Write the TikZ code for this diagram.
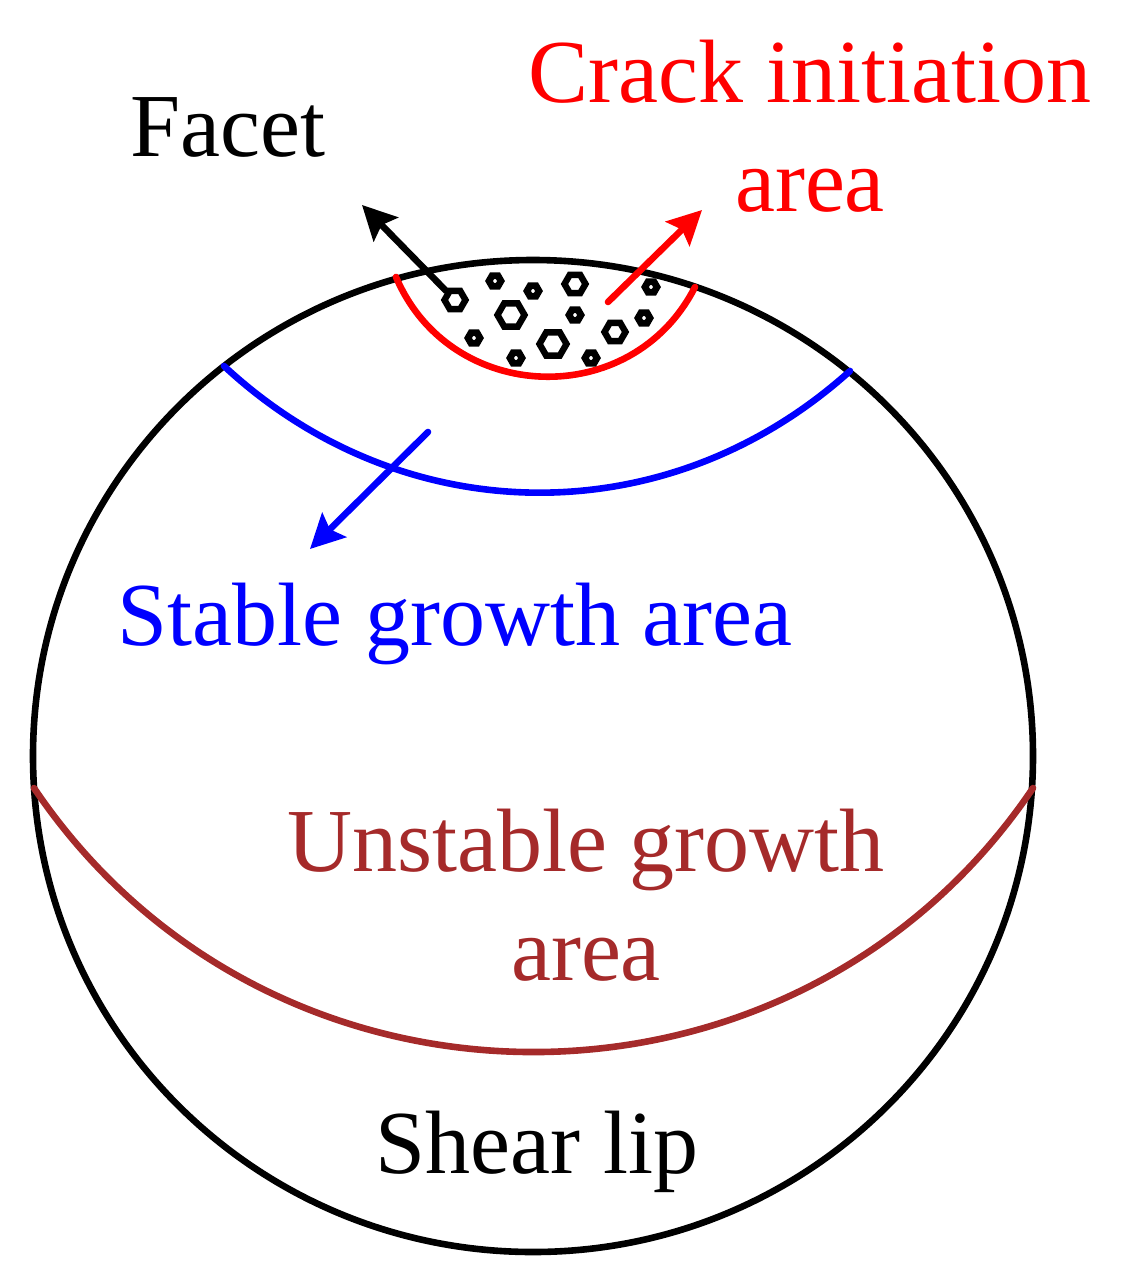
\documentclass[tikz,border=0pt]{standalone}
\usepackage{fontspec}
\setmainfont{Liberation Serif}
\usetikzlibrary{arrows.meta,shapes.geometric}

\tikzset{lbl/.style={inner sep=0pt, align=center, font=\fontsize{45}{54.5}\selectfont}}
\tikzset{lin/.style={line width=3.3pt, line cap=round}}
\tikzset{arr/.style={line width=3.3pt, line cap=round, -{Stealth[length=17pt,width=17pt,inset=3pt]}}}
\tikzset{hexa/.style={draw, regular polygon, regular polygon sides=6, inner sep=0pt}}
\definecolor{lipbrown}{RGB}{165,42,42}

\begin{document}
\begin{tikzpicture}[x=0.5pt,y=-0.5pt]
    \useasboundingbox (0,0) rectangle (1145,1286);

    \node[draw, ellipse, line width=3.3pt, minimum width=500pt, minimum height=496pt, inner sep=0pt] (rim) at (533,756) {};

    \coordinate (r1) at (396,277);
    \coordinate (r2) at (695,287);
    \coordinate (b1) at (224,366);
    \coordinate (b2) at (850,371);
    \coordinate (u1) at (34,788);
    \coordinate (u2) at (1033,788);

    \draw[lin, red] (r1) to[bend right=65, looseness=1.19] (r2);
    \draw[lin, blue] (b1) to[bend right=42.5] (b2);
    \draw[lin, lipbrown] (u1) to[bend right=56, looseness=1.09] (u2);

    % facets
    \foreach \i/\x/\y/\s/\w in {1/455/300/10.5/3.2, 2/495/281/6/3.4, 3/533/291/6/3.4, 4/575/284/10.5/3.2, 5/511/315/13.5/3.2,
        6/575/315/6/3.4, 7/651/287/6/3.4, 8/644/318/6/3.4, 9/615/332/10.5/3.2, 10/474/338/6/3.4, 11/553/344/13.5/3.2,
        12/516/358/6/3.4, 13/591/358/6/3.4}
        \node[hexa, minimum size=\s pt, line width=\w pt] (f\i) at (\x,\y) {};

    \coordinate (ftip) at (362,205);
    \coordinate (cs) at (608,302);
    \coordinate (ctip) at (702,210);
    \coordinate (ss) at (428,432);
    \coordinate (stip) at (310,549);

    \draw[arr] (f1) -- (ftip);
    \draw[arr, red] (cs) -- (ctip);
    \draw[arr, blue] (ss) -- (stip);

    \node[lbl] (facet) at (228,127) {Facet};
    \node[lbl, red] (crack) at (810,126) {Crack initiation\\area};
    \node[lbl, blue] (stable) at (455,624) {Stable growth area};
    \node[lbl, lipbrown] (unstable) at (586,895) {Unstable growth\\area};
    \node[lbl] (shear) at (537,1152) {Shear lip};
\end{tikzpicture}
\end{document}
